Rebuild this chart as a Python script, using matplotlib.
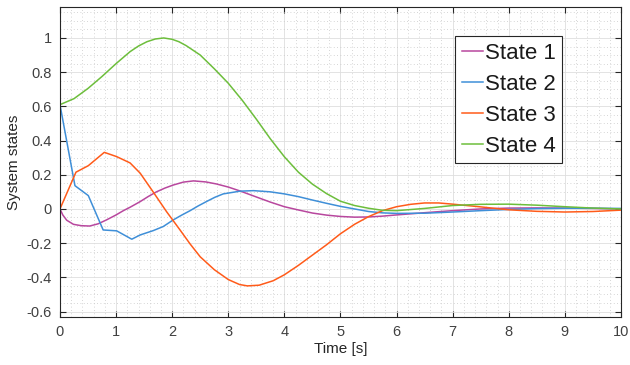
import matplotlib
matplotlib.use("Agg")
from matplotlib import pyplot as plt
from matplotlib.ticker import MultipleLocator

# state 1
t1 = [0, 0.05, 0.12, 0.24, 0.38, 0.53, 0.68, 0.83, 1.0, 1.13, 1.25, 1.43, 1.57, 1.72, 1.87, 2.02, 2.2, 2.38, 2.6, 2.79,
      3.0, 3.21, 3.5, 3.75, 4.0, 4.25, 4.5, 4.75, 5.0, 5.25, 5.5, 5.75, 6.0, 6.5,
      7.0, 7.5, 8.0, 8.5, 9.0, 9.5, 10]
s1 = [0, -0.035, -0.066, -0.09, -0.098, -0.10, -0.087, -0.064, -0.035, -0.01, 0.01, 0.043, 0.072, 0.10, 0.122, 0.14, 0.157, 0.164, 0.158, 0.146,
      0.128, 0.105, 0.07, 0.04, 0.013, -0.006, -0.024, -0.036, -0.044, -0.048, -0.047, -0.042, -0.035, -0.022,
      -0.01, 0.0, 0.005, 0.006, 0.005, 0.003, 0.0]

# state 2
t2 = [0, 0.267, 0.505, 0.77, 1.01, 1.28, 1.43, 1.66, 1.84, 2.02, 2.17, 2.32, 2.46, 2.61, 2.76, 2.91, 3.21,
      3.45, 3.75, 4.0, 4.25, 4.5, 4.75, 5.0, 5.25, 5.5, 5.75, 6.0, 6.5, 7.0, 7.5,
      8.0, 8.5, 9.0, 9.5, 10]
s2 = [0.61, 0.136, 0.078, -0.123, -0.128, -0.177, -0.152, -0.127, -0.103, -0.064, -0.036, -0.01, 0.017, 0.043, 0.068, 0.088, 0.104,
      0.107, 0.10, 0.088, 0.072, 0.052, 0.033, 0.015, 0.0, -0.015, -0.023, -0.026, -0.025, -0.018, -0.01,
      -0.003, 0.002, 0.004, 0.004, 0.003]

# state 3
t3 = [0, 0.285, 0.505, 0.79, 1.01, 1.25, 1.43, 1.66, 1.9, 2.14, 2.32, 2.5, 2.75, 3.0, 3.2, 3.34,
      3.55, 3.8, 4.0, 4.25, 4.5, 4.75, 5.0, 5.25, 5.5, 5.75, 6.0, 6.25, 6.5, 6.75,
      7.0, 7.5, 8.0, 8.5, 9.0, 9.5, 10]
s3 = [0, 0.215, 0.253, 0.331, 0.306, 0.269, 0.209, 0.10, -0.016, -0.123, -0.205, -0.28, -0.355, -0.413, -0.442, -0.45,
      -0.446, -0.42, -0.385, -0.33, -0.27, -0.21, -0.145, -0.09, -0.045, -0.01, 0.013, 0.027, 0.035, 0.035,
      0.028, 0.012, -0.005, -0.014, -0.018, -0.015, -0.007]

# state 4
t4 = [0, 0.25, 0.5, 0.75, 1.0, 1.25, 1.4, 1.55, 1.7, 1.85, 2.0, 2.12, 2.25, 2.5, 2.75, 3.0, 3.25,
      3.5, 3.75, 4.0, 4.25, 4.5, 4.75, 5.0, 5.25, 5.5, 5.75, 6.0, 6.5, 7.0, 7.5,
      8.0, 8.5, 9.0, 9.5, 10]
s4 = [0.61, 0.645, 0.705, 0.775, 0.85, 0.92, 0.953, 0.978, 0.994, 1.0, 0.992, 0.978, 0.955, 0.90, 0.82, 0.735, 0.635,
      0.525, 0.41, 0.305, 0.215, 0.145, 0.09, 0.045, 0.02, 0.004, -0.008, -0.01, 0.003, 0.02, 0.027,
      0.028, 0.022, 0.013, 0.005, 0.0]

labels = ['State 1', 'State 2', 'State 3', 'State 4']
colors = ['#B8479E', '#3F8FD8', '#FF5B1A', '#6DBE3C']

plt.rcParams['font.family'] = ['Liberation Sans', 'DejaVu Sans']

fig = plt.figure(figsize=(6.3, 3.65), dpi=100)
ax = fig.add_axes([0.0952, 0.1315, 0.8905, 0.8493])

# plot the four states
for t, s, lab, col in zip([t1, t2, t3, t4], [s1, s2, s3, s4], labels, colors):
    ax.plot(t, s, color=col, linewidth=1.1, label=lab)

ax.set_xlim(0, 10)
ax.set_ylim(-0.632, 1.181)
ax.xaxis.set_major_locator(MultipleLocator(1))
ax.xaxis.set_minor_locator(MultipleLocator(0.2))
ax.yaxis.set_major_locator(MultipleLocator(0.2))
ax.yaxis.set_minor_locator(MultipleLocator(0.05))
ax.set_yticks([-0.6, -0.4, -0.2, 0, 0.2, 0.4, 0.6, 0.8, 1])
ax.set_yticklabels(['-0.6', '-0.4', '-0.2', '0', '0.2', '0.4', '0.6', '0.8', '1'])

# grid like matlab
ax.grid(True, which='major', color='#dedede', linewidth=0.6, linestyle='-')
ax.grid(True, which='minor', color='#c8c8c8', linewidth=0.6, linestyle=(0, (1, 3)))
ax.set_axisbelow(True)

ax.tick_params(which='major', direction='in', length=4, width=0.8, color='#262626',
               top=True, right=True, labelsize=10.5, labelcolor='#404040', pad=6)
ax.tick_params(which='minor', length=0, top=True, right=True)
for sp in ax.spines.values():
    sp.set_color('#262626')
    sp.set_linewidth(0.8)

ax.set_xlabel('Time [s]', fontsize=11, color='#262626', labelpad=2)
ax.set_ylabel('System states', fontsize=11, color='#262626', labelpad=4)

leg = ax.legend(loc='upper left', bbox_to_anchor=(0.704, 0.906), fontsize=16,
                handlelength=0.95, handletextpad=0.1, labelspacing=0.45, borderpad=0.3,
                borderaxespad=0, fancybox=False, framealpha=1, edgecolor='#262626')
leg.get_frame().set_linewidth(0.8)
for txt in leg.get_texts():
    txt.set_color('#1a1a1a')

fig.savefig('out.png', dpi=100)
